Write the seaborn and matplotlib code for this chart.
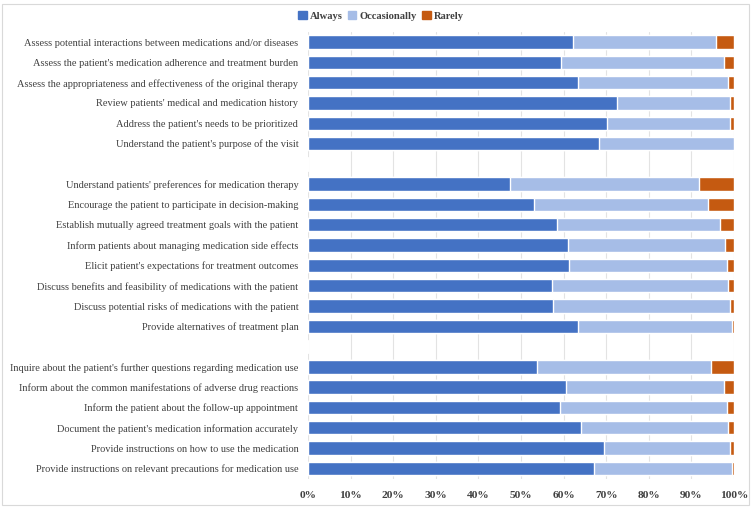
import matplotlib
matplotlib.use("Agg")
import matplotlib.pyplot as plt
import matplotlib.patches as mpatches
from matplotlib.ticker import PercentFormatter
import seaborn as sns
import pandas as pd
import numpy as np

sns.set_theme(style="white")
plt.rcParams['font.family'] = ['Liberation Serif', 'DejaVu Serif']

labels = [
    "Assess potential interactions between medications and/or diseases",
    "Assess the patient's medication adherence and treatment burden",
    "Assess the appropriateness and effectiveness of the original therapy",
    "Review patients' medical and medication history",
    "Address the patient's needs to be prioritized",
    "Understand the patient's purpose of the visit",
    "",
    "Understand patients' preferences for medication therapy",
    "Encourage the patient to participate in decision-making",
    "Establish mutually agreed treatment goals with the patient",
    "Inform patients about managing medication side effects",
    "Elicit patient's expectations for treatment outcomes",
    "Discuss benefits and feasibility of medications with the patient",
    "Discuss potential risks of medications with the patient",
    "Provide alternatives of treatment plan",
    " ",
    "Inquire about the patient's further questions regarding medication use",
    "Inform about the common manifestations of adverse drug reactions",
    "Inform the patient about the follow-up appointment",
    "Document the patient's medication information accurately",
    "Provide instructions on how to use the medication",
    "Provide instructions on relevant precautions for medication use",
]
always = [62.2, 59.3, 63.4, 72.6, 70.3, 68.3, 0,
          47.5, 53.0, 58.5, 61.0, 61.3, 57.3, 57.6, 63.4, 0,
          53.8, 60.5, 59.1, 64.2, 69.4, 67.1]
occasionally = [33.5, 38.4, 35.2, 26.5, 28.8, 31.7, 0,
                44.4, 41.0, 38.1, 37.0, 37.0, 41.3, 41.5, 36.1, 0,
                40.8, 37.2, 39.2, 34.4, 29.7, 32.4]
rarely = [4.3, 2.3, 1.4, 0.9, 0.9, 0.0, 0,
          8.1, 6.0, 3.4, 2.0, 1.7, 1.4, 0.9, 0.5, 0,
          5.4, 2.3, 1.7, 1.4, 0.9, 0.5]
series = ["Always", "Occasionally", "Rarely"]
colors = ["#4472C4", "#A6BDE7", "#C55A11"]

df = pd.DataFrame({"label": labels, "Always": always,
                   "Occasionally": occasionally, "Rarely": rarely})
df["cum_occ"] = df["Always"] + df["Occasionally"]
df["cum_rar"] = df["cum_occ"] + df["Rarely"]

fig = plt.figure(figsize=(7.53, 5.07), dpi=100)
ax = fig.add_axes([308/753, 1 - 478.5/507, 426/753, 446.6/507])

bar_w = 0.66
sns.barplot(data=df, y="label", x="cum_rar", color=colors[2], width=bar_w,
            orient="h", ax=ax, saturation=1, order=labels)
sns.barplot(data=df, y="label", x="cum_occ", color=colors[1], width=bar_w,
            orient="h", ax=ax, saturation=1, order=labels)
sns.barplot(data=df, y="label", x="Always", color=colors[0], width=bar_w,
            orient="h", ax=ax, saturation=1, order=labels)

ax.set_xlim(0, 100)
ax.set_ylim(len(labels) - 0.5, -0.5)
ax.set_xticks(np.arange(0, 101, 10))
ax.xaxis.set_major_formatter(PercentFormatter(decimals=0))
ax.set_xlabel("")
ax.set_ylabel("")
ax.grid(axis="x", color="#E3E3E3", linewidth=0.8)
ax.set_axisbelow(True)
for s in ax.spines.values():
    s.set_visible(False)
ax.tick_params(axis="both", length=0)
ax.tick_params(axis="y", pad=7, labelsize=7.45, labelcolor="#404040")
ax.tick_params(axis="x", pad=9, labelsize=8.2, labelcolor="#404040")
for t in ax.get_xticklabels():
    t.set_fontweight("bold")

handles = [mpatches.Patch(color=c, label=s) for c, s in zip(colors, series)]
leg = fig.legend(handles=handles, loc="center", bbox_to_anchor=(381/753, 1 - 16/507),
                 ncol=3, frameon=False, fontsize=7.6, handlelength=0.8,
                 handleheight=0.8, handletextpad=0.3, columnspacing=0.5)
for t in leg.get_texts():
    t.set_fontweight("bold")
    t.set_color("#404040")

fig.patches.append(mpatches.Rectangle((2/753, 2/507), 747/753, 501/507,
                                      transform=fig.transFigure, fill=False,
                                      edgecolor="#D9D9D9", linewidth=0.8))
fig.savefig("out.png", dpi=100)
